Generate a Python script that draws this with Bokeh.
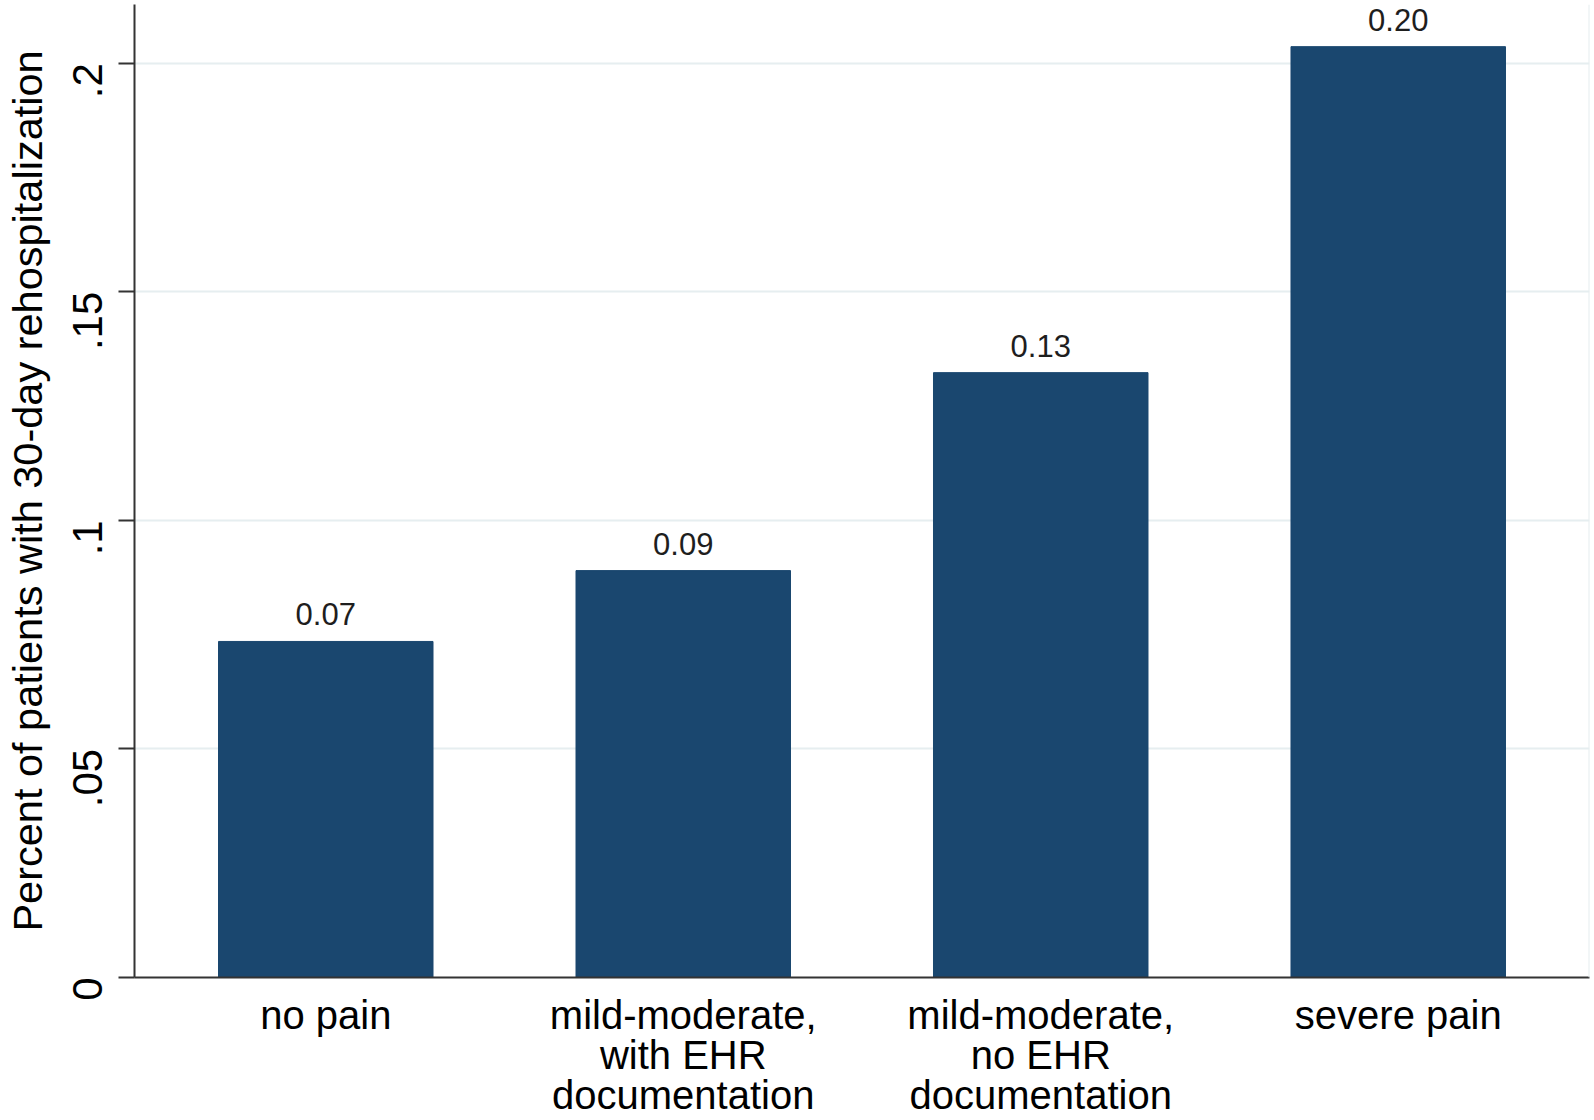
import math
from bokeh.plotting import figure
from bokeh.models import ColumnDataSource, FixedTicker, Range1d, Span, LabelSet
from bokeh.core.properties import value
from bokeh.embed import file_html
from bokeh.resources import INLINE

categories = ["no pain", "mild-moderate,\nwith EHR\ndocumentation",
              "mild-moderate,\nno EHR\ndocumentation", "severe pain"]
rates = [0.0735, 0.0890, 0.1323, 0.2036]
y_ticks = [0, 0.05, 0.1, 0.15, 0.2]
y_tick_labels = ["0", ".05", ".1", ".15", ".2"]
y_title = "Percent of patients with 30-day rehospitalization"

FONT = "Liberation Sans"
BAR = "#1a476f"
GRID = "#e6eef0"

xs = list(range(len(categories)))
src = ColumnDataSource(dict(x=xs, top=rates, lab=["%.2f" % r for r in rates]))

p = figure(width=1594, height=1120, output_backend="svg", toolbar_location=None,
           x_range=Range1d(-0.535, 3.535), y_range=Range1d(0, 0.21282),
           min_border_left=133, min_border_right=5, min_border_top=4,
           min_border_bottom=143)
p.background_fill_color = "white"
p.border_fill_color = "white"
p.outline_line_color = None

p.vbar(x="x", top="top", width=0.6, bottom=0, source=src,
       fill_color=BAR, line_color=BAR, line_width=1)
labels = LabelSet(x="x", y="top", text="lab", source=src, text_align="center",
                  text_baseline="alphabetic", y_offset=16,
                  text_font=value(FONT), text_font_size=value("31px"),
                  text_color=value("#1e1e1e"))
p.add_layout(labels)

p.add_layout(Span(location=3.535, dimension="height", line_color=GRID, line_width=2))

# y axis
ya = p.yaxis[0]
ya.ticker = FixedTicker(ticks=y_ticks)
ya.major_label_overrides = {t: l for t, l in zip(y_ticks, y_tick_labels)}
ya.major_label_orientation = math.pi / 2
ya.major_label_text_font = FONT
ya.major_label_text_font_size = "42px"
ya.major_label_text_color = "black"
ya.major_label_standoff = 31
ya.major_tick_out = 16
ya.major_tick_in = 0
ya.minor_tick_out = 0
ya.minor_tick_in = 0
ya.major_tick_line_width = 2
ya.major_tick_line_color = "#333333"
ya.axis_line_width = 2
ya.axis_line_color = "#333333"
ya.axis_label = y_title
ya.axis_label_text_font = FONT
ya.axis_label_text_font_size = "41.5px"
ya.axis_label_text_font_style = "normal"
ya.axis_label_text_color = "black"
ya.axis_label_standoff = 5

# x axis
xa = p.xaxis[0]
xa.ticker = FixedTicker(ticks=xs)
xa.major_label_overrides = {i: c for i, c in enumerate(categories)}
xa.major_label_text_font = FONT
xa.major_label_text_font_size = "40px"
xa.major_label_text_color = "black"
xa.major_label_text_line_height = 0.92
xa.major_label_standoff = 15
xa.major_tick_out = 0
xa.major_tick_in = 0
xa.minor_tick_out = 0
xa.minor_tick_in = 0
xa.axis_line_width = 2
xa.axis_line_color = "#333333"

p.xgrid.grid_line_color = None
p.ygrid.ticker = FixedTicker(ticks=y_ticks[1:])
p.ygrid.grid_line_color = GRID
p.ygrid.grid_line_width = 2

open("out.html", "w").write(file_html(p, INLINE))
